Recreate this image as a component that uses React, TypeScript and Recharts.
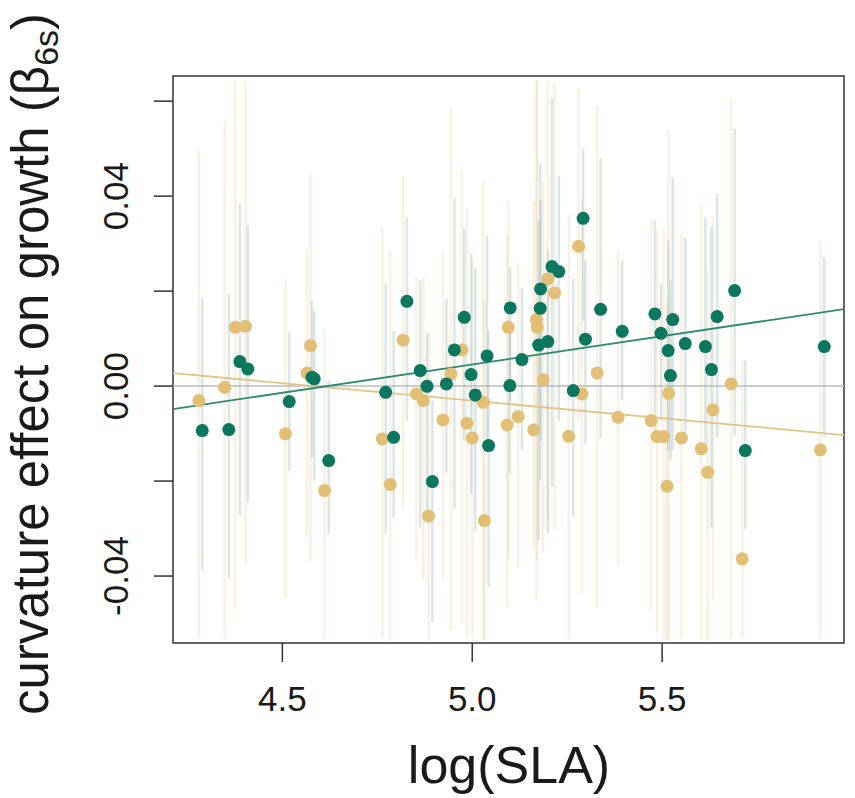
import React from "react";
import {
  ScatterChart,
  Scatter,
  XAxis,
  YAxis,
  ErrorBar,
  ReferenceLine,
  ReferenceArea,
} from "recharts";

// ---- data ----
const tanX = [4.280, 4.348, 4.376, 4.403, 4.508, 4.565, 4.574, 4.611, 4.763, 4.784, 4.818, 4.853, 4.871, 4.885, 4.923, 4.944, 4.973, 4.986, 5.000, 5.029, 5.032, 5.092, 5.095, 5.121, 5.162, 5.169, 5.171, 5.187, 5.199, 5.217, 5.254, 5.280, 5.289, 5.329, 5.384, 5.471, 5.487, 5.504, 5.513, 5.517, 5.551, 5.603, 5.620, 5.634, 5.682, 5.711, 5.917];
const tanY = [-0.00305, -0.00025, 0.01238, 0.01259, -0.01006, 0.00278, 0.00853, -0.02200, -0.01112, -0.02074, 0.00968, -0.00164, -0.00305, -0.02741, -0.00712, 0.00257, 0.00762, -0.00783, -0.01091, -0.00341, -0.02832, -0.00821, 0.01238, -0.00642, -0.00922, 0.01400, 0.01238, 0.00131, 0.02257, 0.01962, -0.01057, 0.02943, -0.00164, 0.00278, -0.00657, -0.00726, -0.01063, -0.01063, -0.02109, -0.00152, -0.01091, -0.01322, -0.01815, -0.00501, 0.00046, -0.03638, -0.01343];
const tanLo = [-0.05316, -0.05316, -0.04684, -0.03737, -0.04453, -0.03189, -0.03674, -0.05295, -0.05295, -0.05358, -0.02558, -0.03674, -0.04095, -0.05358, -0.04095, -0.05147, -0.05000, -0.05295, -0.05295, -0.05358, -0.05358, -0.04663, -0.03674, -0.03821, -0.03400, -0.04516, -0.03674, -0.03526, -0.02832, -0.03042, -0.05316, -0.00726, -0.04368, -0.04663, -0.03779, -0.04726, -0.05211, -0.05358, -0.05358, -0.05358, -0.05316, -0.05316, -0.05358, -0.04516, -0.05316, -0.05295, -0.05316];
const tanHi = [0.04958, 0.05589, 0.06432, 0.06432, 0.02221, 0.02853, 0.04474, 0.01211, 0.03316, 0.02853, 0.04432, 0.02284, 0.02284, 0.01168, 0.02811, 0.05842, 0.04537, 0.03758, 0.02642, 0.04326, 0.01800, 0.03168, 0.03905, 0.02579, 0.03905, 0.06432, 0.06432, 0.04326, 0.06432, 0.06368, 0.03632, 0.06284, 0.03905, 0.05905, 0.02853, 0.03484, 0.03274, 0.03274, 0.01800, 0.05379, 0.03211, 0.03842, 0.02432, 0.03589, 0.06053, 0.00537, 0.03063];

const greenX = [4.289, 4.359, 4.388, 4.409, 4.518, 4.578, 4.584, 4.622, 4.772, 4.793, 4.828, 4.863, 4.881, 4.895, 4.932, 4.953, 4.979, 4.997, 5.008, 5.039, 5.043, 5.100, 5.099, 5.131, 5.175, 5.179, 5.180, 5.199, 5.210, 5.228, 5.266, 5.292, 5.298, 5.338, 5.395, 5.481, 5.497, 5.516, 5.522, 5.528, 5.561, 5.614, 5.630, 5.645, 5.691, 5.719, 5.927];
const greenY = [-0.00937, -0.00916, 0.00516, 0.00362, -0.00326, 0.00185, 0.00152, -0.01568, -0.00131, -0.01078, 0.01785, 0.00326, -0.00004, -0.02011, 0.00046, 0.00762, 0.01448, 0.00242, -0.00185, 0.00636, -0.01253, 0.01646, 0.00011, 0.00558, 0.00863, 0.01638, 0.02046, 0.00937, 0.02516, 0.02411, -0.00095, 0.03533, 0.00989, 0.01617, 0.01154, 0.01520, 0.01112, 0.00747, 0.00221, 0.01400, 0.00895, 0.00832, 0.00347, 0.01463, 0.02011, -0.01358, 0.00832];
const greenLo = [-0.03884, -0.04053, -0.02726, -0.02453, -0.01779, -0.01505, -0.01989, -0.03105, -0.03105, -0.02768, -0.00726, -0.02979, -0.02684, -0.04979, -0.01821, -0.02579, -0.01147, -0.02263, -0.03042, -0.01147, -0.04242, -0.00305, -0.01842, -0.01358, -0.03253, -0.01989, -0.01147, -0.03105, -0.02126, -0.00726, -0.02726, 0.01379, -0.01211, -0.01105, -0.00305, -0.00937, -0.00726, -0.01358, -0.01568, -0.01358, -0.01147, -0.01295, -0.02979, -0.01084, -0.01042, -0.03000, -0.01084];
const greenHi = [0.01842, 0.01947, 0.03842, 0.03379, 0.01126, 0.01800, 0.01589, 0.00116, 0.02158, 0.01168, 0.03547, 0.02221, 0.01105, -0.00305, 0.01842, 0.03968, 0.03316, 0.02789, 0.02474, 0.03168, 0.01168, 0.02495, 0.01379, 0.02074, 0.03484, 0.04684, 0.03905, 0.02853, 0.06074, 0.04432, 0.02263, 0.05000, 0.02642, 0.04811, 0.02642, 0.03484, 0.02158, 0.03063, 0.02221, 0.04389, 0.03126, 0.03547, 0.03337, 0.04053, 0.05421, 0.00537, 0.02705];

// fitted lines: y = intercept + slope * x
const fitNames = ["green", "tan"];
const fitIntercepts = [-0.05500, 0.03382];
const fitSlopes = [0.01191, -0.00738];

const xTicks = [4.5, 5.0, 5.5];
const yTicks = [-0.04, -0.02, 0, 0.02, 0.04, 0.06];
const yLabelled = [-0.04, 0, 0.04];

const X_DOMAIN: [number, number] = [4.212, 5.979];
const Y_DOMAIN: [number, number] = [-0.0541, 0.0653];

const GREEN = "#0B775E";
const TAN = "#E2BF74";
const FONT = "'Liberation Sans', Arial, Helvetica, sans-serif";

const buildRows = (xs: number[], ys: number[], lo: number[], hi: number[]) =>
  xs.map((x, i) => ({ x, y: ys[i], err: [ys[i] - lo[i], hi[i] - ys[i]] }));

const tanRows = buildRows(tanX, tanY, tanLo, tanHi);
const greenRows = buildRows(greenX, greenY, greenLo, greenHi);

const fitSegment = (i: number) => [
  { x: X_DOMAIN[0], y: fitIntercepts[i] + fitSlopes[i] * X_DOMAIN[0] },
  { x: X_DOMAIN[1], y: fitIntercepts[i] + fitSlopes[i] * X_DOMAIN[1] },
];

const XTick = (props: any) => {
  const { x, y, payload } = props;
  return (
    <text x={x} y={y + 49} textAnchor="middle" fontSize={35} fontFamily={FONT} fill="#1a1a1a">
      {Number(payload.value).toFixed(1)}
    </text>
  );
};

const YTick = (props: any) => {
  const { x, y, payload } = props;
  const v = Number(payload.value);
  if (!yLabelled.some((t) => Math.abs(t - v) < 1e-9)) return <g />;
  return (
    <text
      transform={`translate(${x - 26},${y}) rotate(-90)`}
      textAnchor="middle"
      fontSize={35}
      fontFamily={FONT}
      fill="#1a1a1a"
    >
      {v.toFixed(2)}
    </text>
  );
};

const renderYTitle = () => (
  <text
    transform="translate(48,364) rotate(-90)"
    textAnchor="middle"
    fontSize={51}
    fontFamily={FONT}
    fill="#1a1a1a"
  >
    curvature effect on growth (β
    <tspan fontSize={34} dy={10}>6s</tspan>
    <tspan dy={-10}>)</tspan>
  </text>
);

const renderXTitle = () => (
  <text x={509} y={783} textAnchor="middle" fontSize={52} fontFamily={FONT} fill="#1a1a1a">
    log(SLA)
  </text>
);

const noShape = () => <g />;
const dot = (fill: string) => (p: any) => <circle cx={p.cx} cy={p.cy} r={6.5} fill={fill} />;

export default function App() {
  return (
    <div style={{ width: 855, height: 798, marginLeft: -8, marginTop: -8 }}>
      <ScatterChart width={855} height={798} margin={{ top: 76, right: 11, bottom: 0, left: 0 }}>
        <XAxis
          type="number"
          dataKey="x"
          domain={X_DOMAIN}
          ticks={xTicks}
          allowDataOverflow
          axisLine={false}
          tickSize={19}
          tickMargin={0}
          tickLine={{ stroke: "#333", strokeWidth: 1.5 }}
          tick={<XTick />}
          height={155}
          label={renderXTitle}
        />
        <YAxis
          type="number"
          dataKey="y"
          domain={Y_DOMAIN}
          ticks={yTicks}
          allowDataOverflow
          axisLine={false}
          tickSize={19}
          tickMargin={0}
          tickLine={{ stroke: "#333", strokeWidth: 1.5 }}
          tick={<YTick />}
          width={173}
          label={renderYTitle}
        />
        <ReferenceLine y={0} stroke="#bdbdbd" strokeWidth={1.5} />
        <Scatter data={tanRows} shape={noShape} isAnimationActive={false}>
          <ErrorBar
            dataKey="err"
            direction="y"
            width={0}
            stroke="rgba(232,206,150,0.28)"
            strokeWidth={2.5}
            isAnimationActive={false}
          />
        </Scatter>
        <Scatter data={greenRows} shape={noShape} isAnimationActive={false}>
          <ErrorBar
            dataKey="err"
            direction="y"
            width={0}
            stroke="rgba(140,180,188,0.32)"
            strokeWidth={2.5}
            isAnimationActive={false}
          />
        </Scatter>
        <Scatter data={tanRows} shape={dot(TAN)} isAnimationActive={false} />
        <Scatter data={greenRows} shape={dot(GREEN)} isAnimationActive={false} />
        <ReferenceLine segment={fitSegment(1)} stroke="#E2C488" strokeWidth={1.8} />
        <ReferenceLine segment={fitSegment(0)} stroke="#2F8A70" strokeWidth={1.8} />
        <ReferenceArea
          x1={X_DOMAIN[0]}
          x2={X_DOMAIN[1]}
          y1={Y_DOMAIN[0]}
          y2={Y_DOMAIN[1]}
          fill="none"
          fillOpacity={0}
          stroke="#333"
          strokeWidth={1.5}
        />
      </ScatterChart>
    </div>
  );
}
